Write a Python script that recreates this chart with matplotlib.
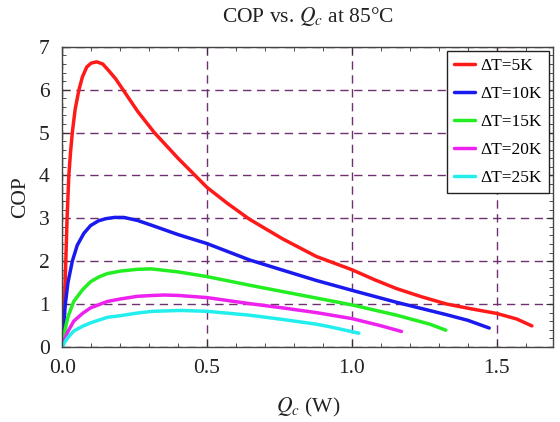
import matplotlib
matplotlib.use("Agg")
import matplotlib.pyplot as plt
from matplotlib.ticker import MultipleLocator

plt.rcParams['font.family'] = ['Liberation Serif', 'DejaVu Serif']
plt.rcParams['mathtext.fontset'] = 'stix'

labels = ["ΔT=5K", "ΔT=10K", "ΔT=15K", "ΔT=20K", "ΔT=25K"]
colors = ["#ff1a1a", "#1a1aee", "#22ee22", "#ee22ee", "#22eeee"]

qc_5 = [0, 0.004, 0.008, 0.013, 0.017, 0.023, 0.029, 0.035, 0.045, 0.058, 0.07, 0.085,
        0.10, 0.119, 0.14, 0.16, 0.185, 0.21, 0.26, 0.318, 0.40, 0.50, 0.57, 0.646,
        0.761, 0.877, 1.0, 1.077, 1.154, 1.24, 1.327, 1.41, 1.5, 1.569, 1.621]
cop_5 = [0, 0.5, 1.0, 2.1, 3.0, 4.0, 4.55, 5.0, 5.55, 6.0, 6.3, 6.53,
         6.62, 6.65, 6.6, 6.45, 6.25, 6.0, 5.5, 5.0, 4.4, 3.72, 3.35, 2.98,
         2.52, 2.11, 1.80, 1.57, 1.36, 1.17, 1.0, 0.89, 0.78, 0.65, 0.49]

qc_10 = [0, 0.005, 0.011, 0.02, 0.035, 0.052, 0.075, 0.098, 0.125, 0.15, 0.18, 0.213,
         0.26, 0.312, 0.40, 0.5, 0.646, 0.761, 0.877, 1.0, 1.154, 1.327, 1.40, 1.474]
cop_10 = [0, 0.5, 1.0, 1.5, 2.0, 2.37, 2.65, 2.83, 2.94, 2.99, 3.02, 3.02,
          2.95, 2.83, 2.62, 2.41, 2.03, 1.79, 1.55, 1.32, 1.04, 0.75, 0.62, 0.44]

qc_15 = [0, 0.01, 0.02, 0.04, 0.07, 0.098, 0.126, 0.156, 0.203, 0.26, 0.307, 0.40,
         0.5, 0.646, 0.761, 0.877, 1.0, 1.154, 1.269, 1.324]
cop_15 = [0, 0.4, 0.7, 1.06, 1.33, 1.52, 1.63, 1.71, 1.77, 1.81, 1.82, 1.75,
          1.64, 1.44, 1.29, 1.14, 0.98, 0.74, 0.53, 0.39]

qc_20 = [0, 0.01, 0.02, 0.04, 0.07, 0.098, 0.156, 0.203, 0.26, 0.312, 0.353, 0.40,
         0.5, 0.646, 0.761, 0.877, 1.0, 1.096, 1.171]
cop_20 = [0, 0.2, 0.36, 0.60, 0.78, 0.91, 1.06, 1.12, 1.18, 1.20, 1.21, 1.20,
          1.15, 1.01, 0.91, 0.80, 0.66, 0.50, 0.36]

qc_25 = [0, 0.01, 0.02, 0.04, 0.07, 0.098, 0.156, 0.203, 0.26, 0.312, 0.41, 0.5,
         0.646, 0.761, 0.877, 0.923, 1.024]
cop_25 = [0, 0.12, 0.22, 0.37, 0.48, 0.56, 0.69, 0.73, 0.79, 0.83, 0.85, 0.83,
          0.74, 0.64, 0.53, 0.47, 0.32]

series_x = [qc_5, qc_10, qc_15, qc_20, qc_25]
series_y = [cop_5, cop_10, cop_15, cop_20, cop_25]

fig = plt.figure(figsize=(5.6, 4.22), dpi=100)
ax = fig.add_axes([0.111, 0.178, 0.877, 0.711])

for x, y, lab, c in zip(series_x, series_y, labels, colors):
    ax.plot(x, y, color=c, lw=2.5, label=lab, solid_capstyle='round', solid_joinstyle='round')

ax.set_xlim(0, 1.695)
ax.set_ylim(0, 7)
ax.xaxis.set_major_locator(MultipleLocator(0.5))
ax.xaxis.set_minor_locator(MultipleLocator(0.1))
ax.yaxis.set_major_locator(MultipleLocator(1))
ax.yaxis.set_minor_locator(MultipleLocator(0.2))
ax.xaxis.set_major_formatter(matplotlib.ticker.FormatStrFormatter('%.1f'))

ax.tick_params(which='both', direction='in', top=True, right=True, colors='#333333',
               labelcolor='#222222', labelsize=15.5)
ax.tick_params(axis='x', which='major', pad=9)
ax.tick_params(axis='y', which='major', pad=9)
ax.tick_params(which='major', length=5, width=0.8)
ax.tick_params(which='minor', length=3, width=0.6)

ax.grid(True, which='major', color='#6e3070', linestyle=(0, (6, 4)), linewidth=1.0)
ax.set_axisbelow(True)

for s in ax.spines.values():
    s.set_color('#444444')
    s.set_linewidth(1.0)

ax.set_xlabel(r"$Q_c$ (W)", fontsize=15.5, color='#222222', labelpad=13)
ax.set_ylabel("COP", fontsize=15.5, color='#222222', labelpad=6)
ax.set_title(r"COP vs. $Q_c$ at 85°C", fontsize=15.5, color='#222222', pad=18)

leg = ax.legend(loc='upper right', fontsize=12.5, frameon=True, fancybox=False,
                handlelength=1.25, handletextpad=0.3, borderpad=0.4, labelspacing=0.68,
                borderaxespad=0.25)
leg.get_frame().set_edgecolor('#222222')
leg.get_frame().set_linewidth(1.0)
leg.get_frame().set_alpha(1.0)

fig.savefig("out.png", dpi=100)
